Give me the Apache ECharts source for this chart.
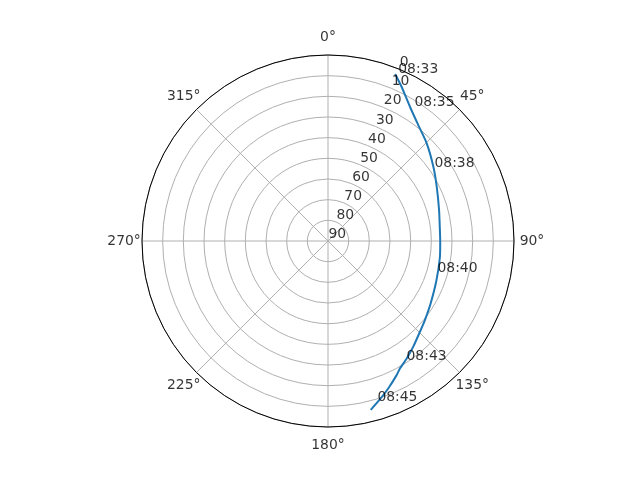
<!DOCTYPE html>
<html>
<head>
<meta charset="utf-8">
<script src="https://cdn.jsdelivr.net/npm/echarts@6/dist/echarts.min.js"></script>
<style>html,body{margin:0;padding:0;background:#fff}#c{width:640px;height:480px}</style>
</head>
<body>
<div id="c"></div>
<script>
// Satellite pass: azimuth (deg, clockwise from north) and elevation (deg)
const passAz = [21.9, 25.5, 31.4, 37.9, 45.3, 54.8, 63.5, 74.4, 84.4, 90.0, 98.0, 109.8, 121.2, 129.2, 135.3, 141.1, 146.1, 150.5, 152.9, 157.7, 161.8, 165.8];
const passEl = [2.9, 7.3, 13.9, 18.9, 22.8, 27.6, 31.2, 34.2, 35.6, 35.7, 35.3, 34.2, 31.9, 29.5, 27.2, 24.3, 21.6, 19.2, 17.1, 13.0, 9.4, 5.7];
// Time annotations along the pass
const labelTimes = ['08:33', '08:35', '08:38', '08:40', '08:43', '08:45'];
const labelAz = [22.8, 32.9, 55.8, 106.8, 147.2, 163.2];
const labelEl = [2.9, 13.4, 28.0, 34.9, 20.3, 8.1];
// Axis ticks
const radialTicks = [0, 10, 20, 30, 40, 50, 60, 70, 80, 90];
const radialLabelAngle = 22.5;
const angleTicks = [0, 45, 90, 135, 180, 225, 270, 315];
const angleLabelRadius = -8.7;

const FONT = 'DejaVu Sans';
const FS = 13.9;
const chart = echarts.init(document.getElementById('c'));
const labelBase = { show: true, color: '#000000', textBorderWidth: 0, fontFamily: FONT, fontSize: FS };
chart.setOption({
  animation: false,
  backgroundColor: '#ffffff',
  polar: { center: [328, 241], radius: 186 },
  angleAxis: {
    type: 'value', min: 0, max: 360, interval: 45,
    startAngle: 90, clockwise: true, z: 3,
    axisLine: { show: true, lineStyle: { color: '#000000', width: 1 } },
    axisTick: { show: false },
    axisLabel: { show: false },
    splitLine: { show: true, lineStyle: { color: '#b0b0b0', width: 1 } }
  },
  radiusAxis: {
    type: 'value', min: 0, max: 90, interval: 10, inverse: true, z: 1,
    axisLine: { show: false },
    axisTick: { show: false },
    axisLabel: { show: false },
    splitLine: { show: true, lineStyle: { color: '#b0b0b0', width: 1 } }
  },
  series: [
    {
      type: 'line', coordinateSystem: 'polar', showSymbol: false, symbol: 'none', smooth: 0.2,
      lineStyle: { color: '#1f77b4', width: 2 },
      data: passEl.map((e, i) => [e, passAz[i]]), z: 5
    },
    {
      type: 'scatter', coordinateSystem: 'polar', clip: false, symbolSize: 1,
      itemStyle: { color: 'rgba(0,0,0,0)' }, z: 6,
      label: Object.assign({}, labelBase, { position: [1, 2], align: 'left', verticalAlign: 'bottom',
        formatter: p => labelTimes[p.dataIndex] }),
      data: labelEl.map((e, i) => [e, labelAz[i]])
    },
    {
      type: 'scatter', coordinateSystem: 'polar', clip: false, symbolSize: 1,
      itemStyle: { color: 'rgba(0,0,0,0)' }, z: 6,
      label: Object.assign({}, labelBase, { position: [1, 1], align: 'left', verticalAlign: 'bottom',
        formatter: p => String(radialTicks[p.dataIndex]) }),
      data: radialTicks.map(r => [r, radialLabelAngle])
    },
    {
      type: 'scatter', coordinateSystem: 'polar', clip: false, symbolSize: 1,
      itemStyle: { color: 'rgba(0,0,0,0)' }, z: 6,
      label: Object.assign({}, labelBase, { position: [0.5, 0.5], align: 'center', verticalAlign: 'middle',
        formatter: p => angleTicks[p.dataIndex] + '°' }),
      data: angleTicks.map(a => [angleLabelRadius, a])
    }
  ]
});
</script>
</body>
</html>
